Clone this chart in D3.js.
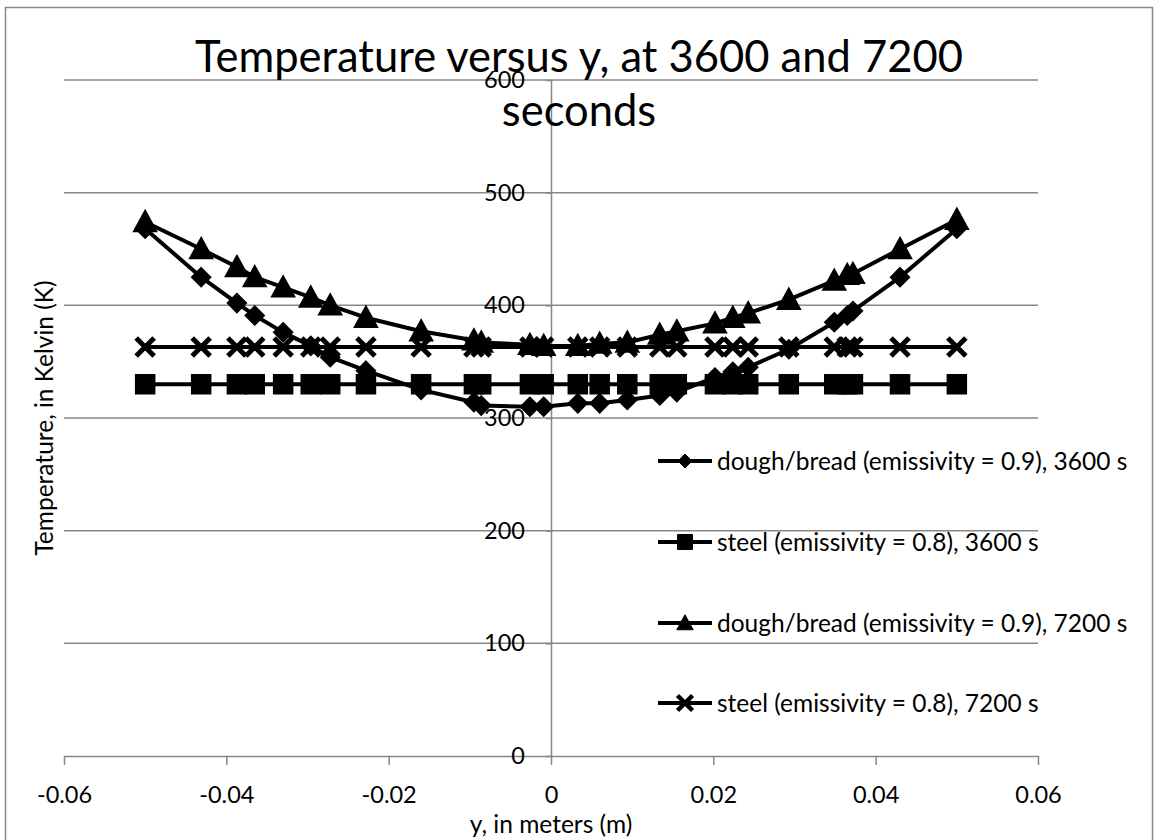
<!DOCTYPE html>
<html>
<head>
<meta charset="utf-8">
<script src="https://cdn.jsdelivr.net/npm/d3@7"></script>
<style>
  html, body { margin: 0; padding: 0; background: #fff; }
  svg text { font-family: Lato, "Noto Sans", sans-serif; fill: #000; }
</style>
</head>
<body>
<svg id="chart" width="1158" height="840"></svg>
<script>
// Position across the slab, in metres
const yPositions = [-0.05, -0.0431, -0.0387, -0.0365, -0.0330, -0.0296, -0.0272, -0.0228, -0.0160,
  -0.0095, -0.0086, -0.0026, -0.0009, 0.0033, 0.0060, 0.0094, 0.0134, 0.0155, 0.0202,
  0.0224, 0.0243, 0.0293, 0.0349, 0.0365, 0.0372, 0.0430, 0.05];

// Temperatures in Kelvin
const dough3600 = [468, 425, 402, 391, 376, 364, 354, 342, 325, 314, 311, 310, 310, 313, 313,
  316, 320, 323, 336, 341, 345, 361, 385, 391, 395, 425, 468];
const steel3600 = [330, 330, 330, 330, 330, 330, 330, 330, 330, 330, 330, 330, 330, 330, 330,
  330, 330, 330, 330, 330, 330, 330, 330, 330, 330, 330, 330];
const dough7200 = [474, 450, 434, 425, 416, 407, 400, 389, 377, 369, 367, 365, 364, 364, 366,
  367, 374, 377, 384, 389, 393, 405, 422, 427, 428, 450, 476];
const steel7200 = [363, 363, 363, 363, 363, 363, 363, 363, 363, 363, 363, 363, 363, 363, 363,
  363, 363, 363, 363, 363, 363, 363, 363, 363, 363, 363, 363];

const seriesNames = [
  "dough/bread (emissivity = 0.9), 3600 s",
  "steel (emissivity = 0.8), 3600 s",
  "dough/bread (emissivity = 0.9), 7200 s",
  "steel (emissivity = 0.8), 7200 s"
];
const seriesMarkers = ["diamond", "square", "triangle", "x"];

const xTicks = [-0.06, -0.04, -0.02, 0, 0.02, 0.04, 0.06];
const xTickLabels = ["-0.06", "-0.04", "-0.02", "0", "0.02", "0.04", "0.06"];
const yTicks = [0, 100, 200, 300, 400, 500, 600];

const titleLines = ["Temperature versus y, at 3600 and 7200", "seconds"];
const xTitle = "y, in meters (m)";
const yTitle = "Temperature, in Kelvin (K)";

// ---------------------------------------------------------------
const svg = d3.select("#chart");
const gridColor = "#878787";

// chart frame
svg.append("rect")
  .attr("x", 5.5).attr("y", 7.5).attr("width", 1147).attr("height", 840)
  .attr("fill", "#fff").attr("stroke", gridColor).attr("stroke-width", 1.5);

const x = d3.scaleLinear().domain([-0.06, 0.06]).range([64, 1038]);
const y = d3.scaleLinear().domain([0, 600]).range([756, 80]);

// horizontal gridlines
svg.append("g").selectAll("line")
  .data(yTicks.filter(d => d !== 0))
  .join("line")
  .attr("x1", x(-0.06)).attr("x2", x(0.06))
  .attr("y1", d => y(d)).attr("y2", d => y(d))
  .attr("stroke", gridColor).attr("stroke-width", 1.5);

// x axis along T = 0
const xAxis = svg.append("g")
  .attr("transform", `translate(0,${y(0)})`)
  .call(d3.axisBottom(x).tickValues(xTicks)
    .tickFormat((d, i) => xTickLabels[i]).tickSize(9).tickSizeOuter(0).tickPadding(21));
xAxis.select(".domain").attr("stroke", gridColor).attr("stroke-width", 1.5);
xAxis.selectAll(".tick line").attr("stroke", gridColor).attr("stroke-width", 1.5);
xAxis.selectAll(".tick text").attr("font-size", 23.5).attr("font-family", "Lato");

// y axis crossing at y = 0
const yAxis = svg.append("g")
  .attr("transform", `translate(${x(0)},0)`)
  .call(d3.axisLeft(y).tickValues(yTicks).tickSize(5).tickSizeOuter(0).tickPadding(21));
yAxis.select(".domain").attr("stroke", gridColor).attr("stroke-width", 1.5);
yAxis.selectAll(".tick line").attr("stroke", gridColor).attr("stroke-width", 1.5);
yAxis.selectAll(".tick text").attr("font-size", 23.5).attr("font-family", "Lato");

// marker shapes
function markerPath(type, s) {
  const h = s / 2;
  if (type === "diamond") return `M0,${-h}L${h},0L0,${h}L${-h},0Z`;
  if (type === "square") return `M${-h},${-h}H${h}V${h}H${-h}Z`;
  if (type === "triangle") return `M0,${-h * 1.1}L${h * 1.1},${h * 0.9}L${-h * 1.1},${h * 0.9}Z`;
  return `M${-h},${-h}L${h},${h}M${-h},${h}L${h},${-h}`;
}
const markerSize = { diamond: 19, square: 19, triangle: 21, x: 18 };

const seriesValues = [dough3600, steel3600, dough7200, steel7200];
const line = d3.line().x(d => x(d[0])).y(d => y(d[1]));

const plot = svg.append("g");
seriesValues.forEach((vals, si) => {
  const pts = yPositions.map((p, i) => [p, vals[i]]);
  const g = plot.append("g");
  g.append("path").attr("d", line(pts))
    .attr("fill", "none").attr("stroke", "#000").attr("stroke-width", 4)
    .attr("stroke-linejoin", "round");
  const type = seriesMarkers[si];
  g.selectAll("path.m").data(pts).join("path").attr("class", "m")
    .attr("transform", d => `translate(${x(d[0])},${y(d[1])})`)
    .attr("d", markerPath(type, markerSize[type]))
    .attr("fill", type === "x" ? "none" : "#000")
    .attr("stroke", "#000")
    .attr("stroke-width", type === "x" ? 5 : 1.5);
});

// legend
const legendY = [461, 542, 623, 703];
const legend = svg.append("g");
seriesNames.forEach((name, i) => {
  const g = legend.append("g").attr("transform", `translate(0,${legendY[i]})`);
  g.append("line").attr("x1", 658).attr("x2", 712).attr("y1", 0).attr("y2", 0)
    .attr("stroke", "#000").attr("stroke-width", 4);
  const type = seriesMarkers[i];
  const s = type === "diamond" ? 14 : 15;
  g.append("path").attr("transform", "translate(685,0)")
    .attr("d", markerPath(type, s))
    .attr("fill", type === "x" ? "none" : "#000")
    .attr("stroke", "#000").attr("stroke-width", type === "x" ? 4.5 : 1);
  g.append("text").attr("x", 717).attr("y", 0).attr("dy", "0.35em")
    .attr("font-size", 24.5).text(name);
});

// titles
svg.append("text").attr("x", 579).attr("y", 72).attr("text-anchor", "middle")
  .attr("font-size", 43.5).text(titleLines[0]);
svg.append("text").attr("x", 579).attr("y", 126).attr("text-anchor", "middle")
  .attr("font-size", 43.5).text(titleLines[1]);
svg.append("text").attr("x", x(0)).attr("y", 833).attr("text-anchor", "middle")
  .attr("font-size", 24.5).text(xTitle);
svg.append("text").attr("transform", `translate(53,${(y(0) + y(600)) / 2}) rotate(-90)`)
  .attr("text-anchor", "middle").attr("font-size", 24.5).text(yTitle);
</script>
</body>
</html>
